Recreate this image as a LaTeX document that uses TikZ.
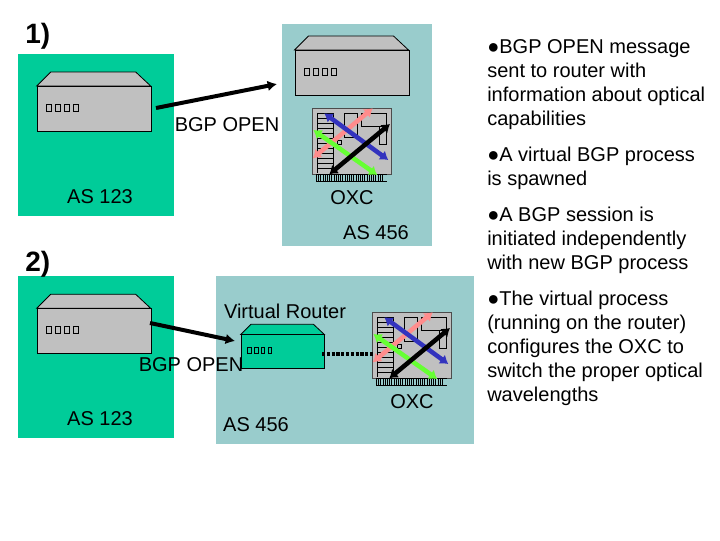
\documentclass[tikz,border=0pt]{standalone}
\usepackage{fontspec}
\setmainfont{Liberation Sans}
\usetikzlibrary{arrows.meta}

\tikzset{
  lab/.style={inner sep=0pt, font=\fontsize{15}{18}\selectfont},
  head/.style={inner sep=0pt, font=\fontsize{21}{24}\selectfont\bfseries, anchor=base west},
  bullet/.style={lab, anchor=north west, align=left},
  wave/.style={line width=3.4pt, {Latex[length=6pt,width=8.5pt]}-{Latex[length=6pt,width=8.5pt]}},
  msg/.style={line width=3pt, -{Latex[length=7pt,width=8pt]}},
  pics/router/.style={code={
    \fill[#1,draw=black,line width=0.6pt] (0,14) -- (14,0) -- (99,0) -- (114,14) -- cycle;
    \node[draw=black,fill=#1,line width=0.6pt,transform shape,minimum width=85.5pt,minimum height=33.75pt,inner sep=0pt,anchor=north west] (-front) at (0,14) {};
    \foreach \x in {0,1,2,3} {
      \draw[line width=0.6pt] (9.5+9.2*\x,32) rectangle (14.5+9.2*\x,39);
    }
  }},
  pics/oxc/.style={code={
    \node[draw=black!70,fill=silver,line width=0.5pt,minimum width=58.9pt,minimum height=49.5pt,inner sep=0pt,anchor=north west] (-card) at (0,0) {};
    \foreach \x in {0,...,30} {
      \draw[line width=0.4pt] (4+2.2*\x,66) -- (4+2.2*\x,72.5);
    }
    \draw[line width=0.4pt] (4,66) -- (74.5,66) (4,72.5) -- (74.5,72.5);
    \foreach \y in {0,...,11} {
      \draw[line width=0.4pt] (5,5+5*\y) -- (21,5+5*\y);
    }
    \draw[line width=0.4pt] (5,5) -- (5,65) (21,5) -- (21,65);
    \draw[line width=0.4pt] (24.5,32) rectangle (29,36);
    \draw[line width=0.4pt] (32,5) rectangle (45,29);
    \draw[line width=0.4pt] (49,5) rectangle (74,18);
    \draw[line width=0.4pt] (67,18) rectangle (74,36);
    \draw[wave,pinkline] (0.4,50) -- (60.4,0);
    \draw[wave,blueline] (12,5) -- (76,51.7);
    \draw[wave,greenline] (1,21.7) -- (65,66.7);
    \draw[wave,black] (17,66) -- (77.7,15.7);
  }}
}

\begin{document}
\begin{tikzpicture}[x=0.75pt,y=-0.75pt]
\useasboundingbox (0,0) rectangle (720,540);

% Colors
\definecolor{asgreen}{RGB}{0,204,153}
\definecolor{asteal}{RGB}{153,204,204}
\definecolor{silver}{RGB}{192,192,192}
\definecolor{pinkline}{RGB}{255,140,140}
\definecolor{blueline}{RGB}{51,51,190}
\definecolor{greenline}{RGB}{102,255,51}

% Background areas
\fill[asgreen] (18,54) rectangle (174,216);
\fill[asteal] (282,24) rectangle (432,246);
\fill[asgreen] (18,276) rectangle (174,438);
\fill[asteal] (216,276) rectangle (474,444);

% Part 1
\node[head] (one) at (25,43.3) {1)};
\pic (rone) at (36.7,72) {router=silver};
\pic (rtwo) at (294.5,36) {router=silver};
\pic (xone) at (312.3,108.3) {oxc};
\coordinate (aone) at (156,108);
\coordinate (bone) at (277,84);
\draw[msg] (aone) -- (bone);
\node[lab] (openone) at (227,125) {BGP OPEN};
\node[lab] (asone) at (100,197) {AS 123};
\node[lab] (oxcone) at (352,198) {OXC};
\node[lab] (astwo) at (376,233) {AS 456};

% Part 2
\node[head] (two) at (25,271.7) {2)};
\pic (rthree) at (36.7,294.3) {router=silver};
\pic[scale=0.735] (rvirt) at (240.7,324.3) {router=asgreen};
\pic (xtwo) at (372.3,312.3) {oxc};
\coordinate (atwo) at (150,323);
\coordinate (btwo) at (235,341);
\draw[msg] (atwo) -- (btwo);
\coordinate (ctwo) at (322,354);
\coordinate (dtwo) at (373,354);
\draw[line width=2.6pt,dash pattern=on 2.4pt off 1.2pt] (ctwo) -- (dtwo);
\node[lab] (opentwo) at (191,365) {BGP OPEN};
\node[lab] (vrouter) at (285,311) {Virtual Router};
\node[lab] (asthree) at (100,419) {AS 123};
\node[lab] (asfour) at (256,425) {AS 456};
\node[lab] (oxctwo) at (412,402) {OXC};

% Right column
\node[bullet] (tone) at (487,39) {●BGP OPEN message\\sent to router with\\information about optical\\capabilities};
\node[bullet] (ttwo) at (487,147) {●A virtual BGP process\\is spawned};
\node[bullet] (tthree) at (487,207) {●A BGP session is\\initiated independently\\with new BGP process};
\node[bullet] (tfour) at (487,291) {●The virtual process\\(running on the router)\\configures the OXC to\\switch the proper optical\\wavelengths};

\end{tikzpicture}
\end{document}
